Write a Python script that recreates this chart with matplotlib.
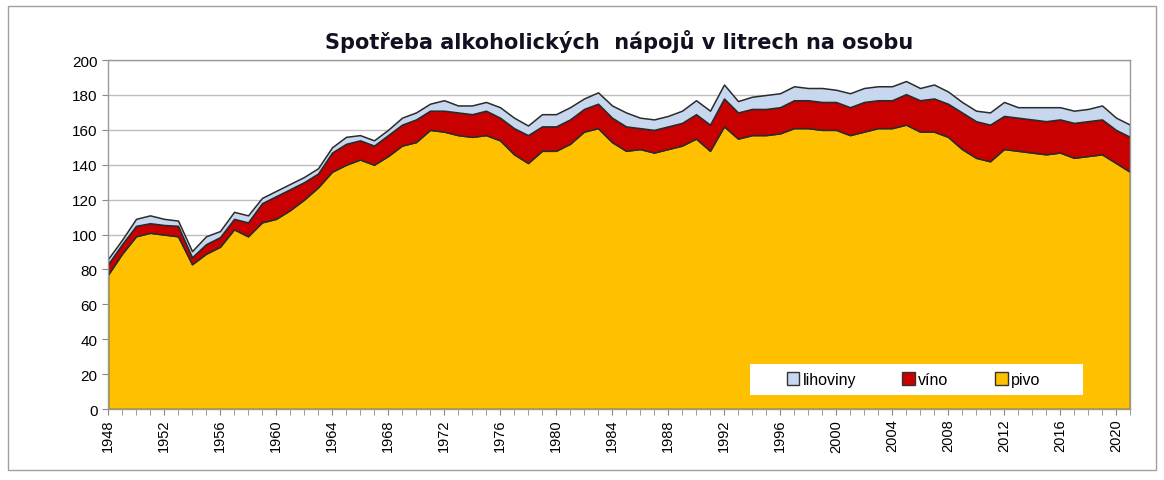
import numpy as np
import matplotlib
matplotlib.use('Agg')
import matplotlib.pyplot as plt
from matplotlib.patches import Rectangle, Patch

plt.rcParams['font.family'] = ['Liberation Sans', 'DejaVu Sans']

# roky
years = list(range(1948, 2022))

# pivo (litry na osobu)
pivo = [77, 89, 99, 101, 100, 99, 83, 89, 93, 103, 99, 107, 109, 114, 120, 127,
        136, 140, 143, 140, 145, 151, 153, 160, 159, 157, 156, 157, 154, 146,
        141, 148, 148, 152, 159, 161, 153, 148, 149, 147, 149, 151, 155, 148,
        162, 155, 157, 157, 158, 161, 161, 160, 160, 157, 159, 161, 161, 163,
        159, 159, 156, 149, 144, 142, 149, 148, 147, 146, 147, 144, 145, 146,
        141, 136]

# víno
vino = [6, 5.5, 6, 5.5, 5.5, 6, 4, 5.5, 5.5, 6, 8, 11, 13, 12, 10, 8,
        11, 12, 11, 11, 12, 12, 13, 11, 12, 13, 13, 14, 13, 15,
        16, 14, 14, 14, 13, 14, 14, 14, 12, 13, 13, 13, 14, 15,
        16, 15, 15, 15, 15, 16, 16, 16, 16, 16, 17, 16, 16, 17.5,
        18, 19, 19, 21, 21, 21, 19, 19, 19, 19, 19, 20, 20, 20,
        19, 20]

# lihoviny
lihoviny = [3, 2.5, 4, 4.5, 3.5, 3, 3.5, 4.5, 3.5, 4, 4, 3, 3, 3, 3, 3,
            3, 4, 3, 3, 3, 4, 4, 4, 6, 4, 5, 5, 6, 6,
            5.5, 7, 7, 7, 6, 6.5, 7, 8, 6, 6, 6, 7, 8, 8,
            8, 6.5, 7, 8, 8, 8, 7, 8, 7, 8, 8, 8, 8, 7.5,
            7, 8, 7, 6, 6, 7, 8, 6, 7, 8, 7, 7, 7, 8,
            7, 7]

barvy = ['#FFC000', '#C80000', '#C6D7EE']

fig = plt.figure(figsize=(11.64, 4.81), dpi=100)
ax = fig.add_axes([0.0928, 0.1476, 0.8780, 0.7254])

ax.stackplot(years, pivo, vino, lihoviny, colors=barvy,
             edgecolor='#2b2b2b', linewidth=1.1, zorder=2)

ax.set_xlim(1948, 2021)
ax.set_ylim(0, 200)
ax.set_yticks(range(0, 201, 20))
ax.set_xticks(range(1948, 2022, 4))
ax.set_xticks(years, minor=True)
ax.tick_params(axis='x', which='both', direction='out', length=4, color='#888888',
               labelrotation=90, labelsize=10.5, pad=3)
ax.tick_params(axis='y', direction='out', length=4, color='#888888', labelsize=11)
ax.yaxis.grid(True, color='#bdbdbd', linewidth=1.0, zorder=0)
ax.set_axisbelow(True)
for s in ax.spines.values():
    s.set_color('#9a9a9a')
    s.set_linewidth(1.0)

ax.set_title('Spotřeba alkoholických  nápojů v litrech na osobu',
             fontsize=15, fontweight='bold', pad=9,
             family=['DejaVu Sans'], color='#111122')

# bílé pole legendy
ax.add_patch(Rectangle((0.628, 0.040), 0.326, 0.089, transform=ax.transAxes,
                       facecolor='white', edgecolor='none', zorder=4))
handles = [Patch(facecolor=barvy[2], edgecolor='#333333', label='lihoviny'),
           Patch(facecolor=barvy[1], edgecolor='#333333', label='víno'),
           Patch(facecolor=barvy[0], edgecolor='#333333', label='pivo')]
leg = ax.legend(handles=handles, ncol=3, loc='center',
                bbox_to_anchor=(0.788, 0.0845), frameon=False, fontsize=11.5,
                handlelength=0.8, handleheight=0.8, handletextpad=0.2,
                columnspacing=2.9, borderpad=0.0, borderaxespad=0)
leg.set_zorder(5)

# rámeček grafu
fig.patches.append(Rectangle((0.007, 0.02), 0.986, 0.965, transform=fig.transFigure,
                             fill=False, edgecolor='#a0a0a0', linewidth=1.0))

fig.savefig('out.png', dpi=100)
